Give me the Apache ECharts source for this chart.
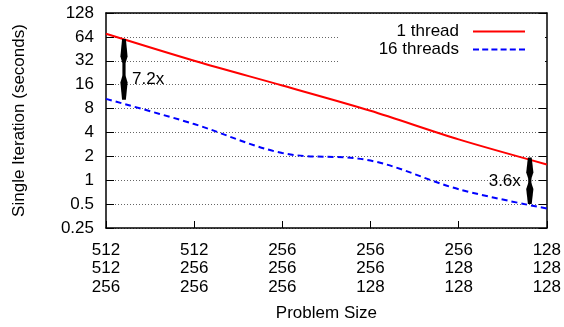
<!DOCTYPE html>
<html><head><meta charset="utf-8">
<script src="https://cdn.jsdelivr.net/npm/echarts@6/dist/echarts.min.js"></script>
<style>html,body{margin:0;padding:0;background:#fff}#c{width:564px;height:327px}</style>
</head><body><div id="c"></div>
<script>
// Problem size categories (three dimensions per tick)
const categories = ['512\n512\n256', '512\n256\n256', '256\n256\n256', '256\n256\n128', '256\n128\n128', '128\n128\n128'];
const yTicks = [0.25, 0.5, 1, 2, 4, 8, 16, 32, 64, 128];
const oneThread = [70, 32, 15.6, 7.5, 3.27, 1.58];
const sixteenThreads = [10.6, 5.1, 2.2, 1.77, 0.77, 0.44];
// speed-up annotations: [x position, top value, bottom value, label x, label y]
const arrowData = [[0.204, 60, 10.3, 0.295, 18.5], [4.807, 1.94, 0.5, 4.705, 0.96]];
const arrowLabels = ['7.2x', '3.6x'];
const arrowAlign = ['left', 'right'];

const FONT = 'Liberation Sans';
const FS = 17;
const chart = echarts.init(document.getElementById('c'), null, {renderer: 'canvas'});

function renderArrow(params, api) {
  const x = api.value(0);
  const p1 = api.coord([x, api.value(1)]);
  const p2 = api.coord([x, api.value(2)]);
  const pl = api.coord([api.value(3), api.value(4)]);
  const cx = p1[0], t = p1[1], b = p2[1];
  const span = b - t;
  const L = Math.min(24, span * 0.45);
  const hw = 3.6, sw = 1.6, tw = 1.9;
  const black = {fill: '#000'};
  return {
    type: 'group',
    children: [
      {type: 'polygon', shape: {points: [[cx - tw, t], [cx + tw, t], [cx + hw, t + L * 0.72], [cx + sw, t + L], [cx - sw, t + L], [cx - hw, t + L * 0.72]]}, style: black},
      {type: 'rect', shape: {x: cx - sw, y: t + L - 0.5, width: sw * 2, height: Math.max(0, span - 2 * L + 1)}, style: black},
      {type: 'polygon', shape: {points: [[cx - tw, b], [cx + tw, b], [cx + hw, b - L * 0.72], [cx + sw, b - L], [cx - sw, b - L], [cx - hw, b - L * 0.72]]}, style: black},
      {type: 'text', x: pl[0], y: pl[1], style: {text: arrowLabels[params.dataIndex], fontFamily: FONT, fontSize: FS, fill: '#000', align: arrowAlign[params.dataIndex], verticalAlign: 'middle'}}
    ]
  };
}

const solidIcon = 'path://M0,0H52V2H0Z';
const dashIcon = 'path://M0,0h6v2h-6z M9.2,0h6v2h-6z M18.4,0h6v2h-6z M27.6,0h6v2h-6z M36.8,0h6v2h-6z M46,0h6v2h-6z';

const axisTxt = {fontFamily: FONT, fontSize: FS, color: '#000'};
chart.setOption({
  animation: false,
  backgroundColor: '#fff',
  grid: {left: 106, right: 17, top: 13, bottom: 96},
  legend: {
    data: [{name: '1 thread', icon: solidIcon}, {name: '16 threads', icon: dashIcon}],
    orient: 'vertical', align: 'right', right: 19, top: 17,
    padding: [6, 20, 6, 40],
    backgroundColor: '#fff',
    itemWidth: 52, itemHeight: 12, itemGap: 1,
    textStyle: {fontFamily: FONT, fontSize: FS, color: '#000', padding: [0, 9, 0, 0]},
    z: 5
  },
  xAxis: [{
    type: 'value', min: 0, max: 5, interval: 1,
    name: 'Problem Size', nameLocation: 'middle', nameGap: 77,
    nameTextStyle: axisTxt,
    axisLine: {show: true, onZero: false, lineStyle: {color: '#000', width: 1.5}},
    axisTick: {show: true, inside: true, length: 7, lineStyle: {color: '#000', width: 1}},
    axisLabel: {margin: 13, lineHeight: 18.5, fontFamily: FONT, fontSize: FS, color: '#000',
      formatter: v => categories[Math.round(v)] || ''},
    splitLine: {show: false}
  }, {
    type: 'value', min: 0, max: 5, position: 'top',
    axisLine: {show: true, onZero: false, lineStyle: {color: '#000', width: 1.5}},
    axisTick: {show: false}, axisLabel: {show: false}, splitLine: {show: false}
  }],
  yAxis: [{
    type: 'log', logBase: 2, min: 0.25, max: 128, splitNumber: 9,
    name: 'Single Iteration (seconds)', nameLocation: 'middle', nameGap: 78,
    nameTextStyle: axisTxt,
    axisLine: {show: true, onZero: false, lineStyle: {color: '#000', width: 1.5}},
    axisTick: {show: true, inside: true, length: 8, lineStyle: {color: '#000', width: 1}},
    axisLabel: {margin: 12, padding: [3, 0, 0, 0], fontFamily: FONT, fontSize: FS, color: '#000',
      formatter: v => { const t = yTicks.find(k => Math.abs(k - v) / k < 1e-6); return t === undefined ? '' : String(t); }},
    splitLine: {show: true, lineStyle: {color: '#666', width: 1, type: [1, 2]}}
  }, {
    type: 'log', logBase: 2, min: 0.25, max: 128, splitNumber: 9, position: 'right',
    axisLine: {show: true, onZero: false, lineStyle: {color: '#000', width: 1.5}},
    axisTick: {show: true, inside: true, length: 8, lineStyle: {color: '#000', width: 1}},
    axisLabel: {show: false}, splitLine: {show: false}
  }],
  series: [{
    name: '1 thread', type: 'line', symbol: 'none', smooth: 0.3,
    data: oneThread.map((v, i) => [i, v]),
    lineStyle: {color: '#ff0000', width: 2}, itemStyle: {color: '#ff0000'}, z: 3
  }, {
    name: '16 threads', type: 'line', symbol: 'none', smooth: 0.35,
    data: sixteenThreads.map((v, i) => [i, v]),
    lineStyle: {color: '#0000ff', width: 2, type: [6, 4]}, itemStyle: {color: '#0000ff'}, z: 3
  }, {
    name: 'speedup', type: 'custom', renderItem: renderArrow,
    data: arrowData, encode: {x: [0, 3], y: [1, 2, 4]}, z: 4, silent: true
  }]
});
</script></body></html>
